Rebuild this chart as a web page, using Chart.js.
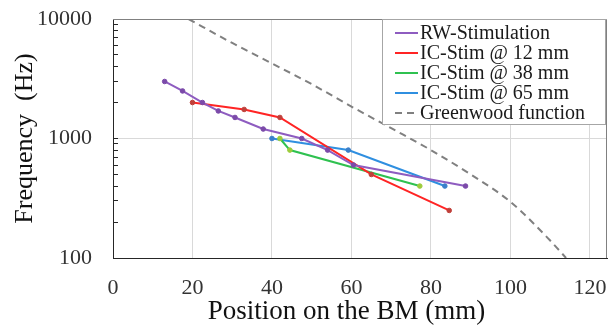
<!DOCTYPE html>
<html>
<head>
<meta charset="utf-8">
<script src="https://cdn.jsdelivr.net/npm/chart.js@4"></script>
<style>
  body { margin: 0; background: #fff; }
  #bmChart { display: block; }
</style>
</head>
<body>
<canvas id="bmChart" width="613" height="329"></canvas>
<script>
// data (position in mm, frequency in Hz)
var rwPos = [13, 17.5, 22.5, 26.5, 30.7, 37.8, 47.5, 54, 60.5, 88.7];
var rwFreq = [3000, 2500, 2000, 1700, 1500, 1200, 1000, 800, 600, 400];

var ic12Pos = [20, 33, 42, 65, 84.6];
var ic12Freq = [2000, 1750, 1500, 500, 250];

var ic38Pos = [42, 44.5, 77.2];
var ic38Freq = [1000, 800, 400];

var ic65Pos = [40, 59.2, 83.5];
var ic65Freq = [1000, 800, 400];

var gwPos = [19, 30, 40, 50, 60, 70, 80, 90, 100, 110, 114];
var gwFreq = [10000, 6300, 4250, 2850, 1850, 1220, 800, 500, 295, 140, 100];

var seriesLabels = ['RW-Stimulation', 'IC-Stim @ 12 mm', 'IC-Stim @ 38 mm', 'IC-Stim @ 65 mm', 'Greenwood function'];
var posTicks = [0, 20, 40, 60, 80, 100, 120];
var freqTicks = [100, 1000, 10000];
var xTitle = 'Position on the BM (mm)';

function pts(xs, ys) {
    return xs.map(function (x, i) { return {x: x, y: ys[i]}; });
}

var serif = '"Liberation Serif", "Times New Roman", serif';

// legend drawn inside the plot, top right
var boxLegend = {
    id: 'boxLegend',
    afterDatasetsDraw: function (chart) {
        var c = chart.ctx, a = chart.chartArea;
        var x0 = 382, y0 = a.top, w = a.right - 2 - x0, h = 105;
        c.save();
        c.fillStyle = '#fff';
        c.fillRect(x0, y0, w, h);
        c.strokeStyle = '#a6a6a6';
        c.lineWidth = 1;
        c.strokeRect(x0 + 0.5, y0 + 0.5, w, h);
        c.font = '20px ' + serif;
        c.textBaseline = 'middle';
        chart.data.datasets.forEach(function (ds, i) {
            var y = y0 + 14 + i * 20;
            c.strokeStyle = ds.borderColor;
            c.lineWidth = 2;
            c.setLineDash(ds.borderDash || []);
            c.beginPath();
            c.moveTo(x0 + 13, y);
            c.lineTo(x0 + 36, y);
            c.stroke();
            c.setLineDash([]);
            if (ds.pointRadius) {
                c.fillStyle = ds.pointBackgroundColor;
                c.beginPath();
                c.arc(x0 + 24.5, y, 2.2, 0, Math.PI * 2);
                c.fill();
            }
            c.fillStyle = '#1a1a1a';
            c.fillText(ds.label, x0 + 38, y + 1);
        });
        c.restore();
    }
};

// top and right frame of the plot area, plus the x title centred on the 0-120 span
var frame = {
    id: 'frame',
    beforeDatasetsDraw: function (chart) {
        var c = chart.ctx, a = chart.chartArea;
        c.save();
        c.strokeStyle = '#808080';
        c.lineWidth = 1;
        c.beginPath();
        c.moveTo(a.left, a.top + 0.5);
        c.lineTo(a.right - 0.5, a.top + 0.5);
        c.lineTo(a.right - 0.5, a.bottom);
        c.stroke();
        c.restore();
    },
    afterDraw: function (chart) {
        var c = chart.ctx, xs = chart.scales.x;
        var mid = (xs.getPixelForValue(posTicks[0]) + xs.getPixelForValue(posTicks[posTicks.length - 1])) / 2 - 5;
        c.save();
        c.font = '27px ' + serif;
        c.fillStyle = '#111';
        c.textAlign = 'center';
        c.textBaseline = 'middle';
        c.fillText(xTitle, mid, 312);
        c.restore();
    }
};

var ctx = document.getElementById('bmChart').getContext('2d');
var chart = new Chart(ctx, {
    type: 'line',
    data: {
        datasets: [{
            label: seriesLabels[0],
            data: pts(rwPos, rwFreq),
            borderColor: '#8e5cc0',
            pointBackgroundColor: '#7b4aa9',
            pointBorderColor: '#7b4aa9'
        }, {
            label: seriesLabels[1],
            data: pts(ic12Pos, ic12Freq),
            borderColor: '#ff2424',
            pointBackgroundColor: '#c0403a',
            pointBorderColor: '#c0403a'
        }, {
            label: seriesLabels[2],
            data: pts(ic38Pos, ic38Freq),
            borderColor: '#2fc150',
            pointBackgroundColor: '#9ccc3c',
            pointBorderColor: '#9ccc3c'
        }, {
            label: seriesLabels[3],
            data: pts(ic65Pos, ic65Freq),
            borderColor: '#2f8fe0',
            pointBackgroundColor: '#3b7fc9',
            pointBorderColor: '#3b7fc9'
        }, {
            label: seriesLabels[4],
            data: pts(gwPos, gwFreq),
            borderColor: '#808080',
            borderDash: [7, 5],
            pointRadius: 0,
            cubicInterpolationMode: 'monotone'
        }]
    },
    options: {
        responsive: false,
        animation: false,
        layout: {padding: {top: 19, right: 6, left: 0, bottom: 0}},
        elements: {
            line: {borderWidth: 2, tension: 0},
            point: {radius: 2.3, borderWidth: 1}
        },
        plugins: {legend: {display: false}, tooltip: {enabled: false}},
        scales: {
            x: {
                type: 'linear',
                min: 0,
                max: 124.3,
                afterBuildTicks: function (s) { s.ticks = posTicks.map(function (v) { return {value: v}; }); },
                afterFit: function (s) { s.height = 71; s.paddingLeft = 0; s.paddingRight = 0; },
                grid: {
                    color: function (c) { return c.tick && c.tick.value === 0 ? 'transparent' : '#d9d9d9'; },
                    drawTicks: false
                },
                border: {color: '#262626', width: 1},
                ticks: {font: {family: serif, size: 22}, color: '#333', padding: 17, maxRotation: 0}
            },
            y: {
                type: 'logarithmic',
                min: 100,
                max: 10000,
                afterBuildTicks: function (s) {
                    var t = [];
                    for (var d = 100; d < 10000; d *= 10) {
                        for (var m = 1; m < 10; m++) t.push({value: d * m});
                    }
                    t.push({value: 10000});
                    s.ticks = t;
                },
                afterFit: function (s) { s.width = 113; s.paddingTop = 0; s.paddingBottom = 0; },
                grid: {
                    color: function (c) { return c.tick && c.tick.value === 1000 ? '#d9d9d9' : 'transparent'; },
                    tickColor: '#262626',
                    tickLength: -5
                },
                border: {color: '#262626', width: 1},
                ticks: {
                    font: {family: serif, size: 22},
                    color: '#333',
                    padding: 26,
                    autoSkip: false,
                    callback: function (v) { return freqTicks.indexOf(v) >= 0 ? String(v) : ''; }
                },
                title: {display: true, text: 'Frequency  (Hz)', font: {family: serif, size: 26}, color: '#111', padding: {top: 10, bottom: 0}}
            }
        }
    },
    plugins: [frame, boxLegend]
});
</script>
</body>
</html>
